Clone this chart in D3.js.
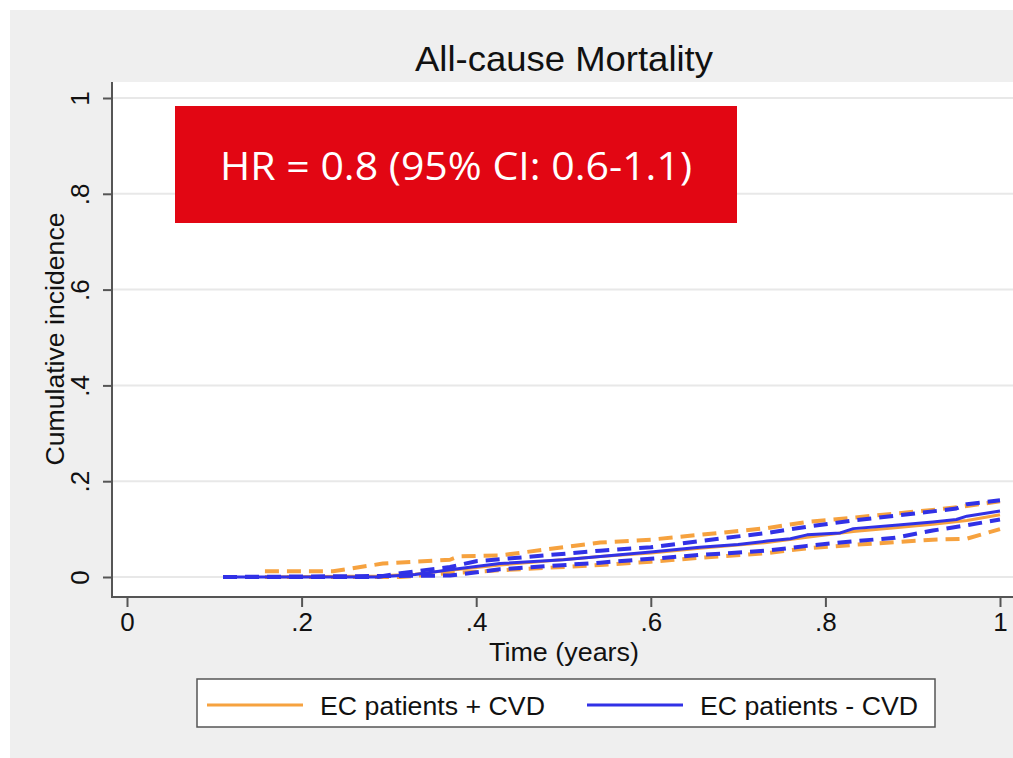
<!DOCTYPE html>
<html>
<head>
<meta charset="utf-8">
<script src="https://cdn.jsdelivr.net/npm/d3@7"></script>
<style>
  body { margin: 0; background: #fff; }
  svg { display: block; font-family: 'Liberation Sans', Arial, sans-serif; }
</style>
</head>
<body>
<div id="chart"></div>
<script>
// [time, cumulative incidence]
let orangeEst = [[0.158, 0], [0.286, 0.002], [0.33, 0.006], [0.37, 0.014], [0.427, 0.025], [0.542, 0.043], [0.6, 0.05], [0.656, 0.06], [0.733, 0.072], [0.779, 0.083], [0.832, 0.095], [0.88, 0.103], [0.923, 0.11], [0.962, 0.118], [1.0, 0.13]]
let orangeHi = [[0.158, 0.012], [0.236, 0.012], [0.293, 0.028], [0.37, 0.036], [0.38, 0.043], [0.427, 0.045], [0.542, 0.072], [0.6, 0.078], [0.656, 0.088], [0.733, 0.102], [0.779, 0.115], [0.832, 0.124], [0.923, 0.14], [0.962, 0.148], [1.0, 0.158]]
let orangeLo = [[0.158, 0], [0.313, 0], [0.37, 0.008], [0.427, 0.014], [0.542, 0.025], [0.6, 0.032], [0.656, 0.04], [0.733, 0.05], [0.779, 0.06], [0.832, 0.067], [0.923, 0.078], [0.962, 0.08], [1.0, 0.1]]

let blueEst = [[0.11, 0], [0.286, 0], [0.33, 0.005], [0.37, 0.015], [0.427, 0.028], [0.5, 0.036], [0.6, 0.052], [0.656, 0.062], [0.7, 0.068], [0.733, 0.075], [0.76, 0.08], [0.779, 0.088], [0.817, 0.092], [0.832, 0.101], [0.88, 0.108], [0.923, 0.115], [0.95, 0.12], [0.962, 0.127], [1.0, 0.138]]
let blueHi = [[0.11, 0], [0.286, 0], [0.313, 0.008], [0.37, 0.021], [0.4, 0.033], [0.427, 0.037], [0.542, 0.055], [0.6, 0.062], [0.656, 0.075], [0.733, 0.092], [0.779, 0.105], [0.832, 0.118], [0.923, 0.137], [0.95, 0.143], [0.962, 0.152], [1.0, 0.16]]
let blueLo = [[0.11, 0], [0.37, 0.003], [0.427, 0.016], [0.542, 0.03], [0.6, 0.038], [0.656, 0.046], [0.733, 0.055], [0.779, 0.065], [0.817, 0.072], [0.88, 0.082], [0.923, 0.097], [0.962, 0.108], [1.0, 0.12]]

let xTicks = [0, 0.2, 0.4, 0.6, 0.8, 1]
let yTicks = [0, 0.2, 0.4, 0.6, 0.8, 1]
let legendLabels = ['EC patients + CVD', 'EC patients - CVD']

let orange = '#f6a23f'
let blue = '#3131e6'
let fmt = d => (d === 0 || d === 1) ? String(d) : String(d).replace(/^0/, '')

let svg = d3.select('#chart').append('svg')
  .attr('width', 1013)
  .attr('height', 758)

// gray graph region + white plot region
svg.append('rect').attr('x', 10).attr('y', 10).attr('width', 1003).attr('height', 748).attr('fill', '#efefef')
svg.append('rect').attr('x', 112).attr('y', 82).attr('width', 901).attr('height', 515).attr('fill', '#fff')

let x = d3.scaleLinear().domain([0, 1]).range([127, 1000])
let y = d3.scaleLinear().domain([0, 1]).range([577, 98])

// gridlines
svg.append('g')
  .selectAll('line')
  .data(yTicks)
  .enter()
  .append('line')
  .attr('x1', 113).attr('x2', 1013)
  .attr('y1', d => y(d)).attr('y2', d => y(d))
  .attr('stroke', '#e8e8e8')
  .attr('stroke-width', 2)

// axes
let yAxis = svg.append('g')
  .attr('transform', 'translate(112,0)')
  .call(d3.axisLeft(y).tickValues(yTicks).tickFormat(fmt).tickSize(9).tickPadding(10))
yAxis.select('.domain').attr('d', 'M0,82V597').attr('stroke', '#555').attr('stroke-width', 2)
yAxis.selectAll('.tick line').attr('stroke', '#555').attr('stroke-width', 2)
yAxis.selectAll('.tick text')
  .attr('font-size', 26).attr('fill', '#111')
  .attr('text-anchor', 'middle')
  .attr('transform', 'translate(-32,0) rotate(-90)')
  .attr('x', 0).attr('dy', '0.35em')

let xAxis = svg.append('g')
  .attr('transform', 'translate(0,597)')
  .call(d3.axisBottom(x).tickValues(xTicks).tickFormat(fmt).tickSize(10).tickPadding(6))
xAxis.select('.domain').attr('d', 'M111,0H1013').attr('stroke', '#555').attr('stroke-width', 2)
xAxis.selectAll('.tick line').attr('stroke', '#555').attr('stroke-width', 2)
xAxis.selectAll('.tick text').attr('font-size', 26).attr('fill', '#111')

// titles
svg.append('text')
  .attr('x', 564).attr('y', 71)
  .attr('text-anchor', 'middle')
  .attr('font-size', 35)
  .attr('fill', '#111')
  .attr('textLength', 298)
  .attr('lengthAdjust', 'spacingAndGlyphs')
  .text('All-cause Mortality')

svg.append('text')
  .attr('x', 564).attr('y', 661)
  .attr('text-anchor', 'middle')
  .attr('font-size', 26)
  .attr('fill', '#111')
  .attr('textLength', 150)
  .attr('lengthAdjust', 'spacingAndGlyphs')
  .text('Time (years)')

svg.append('text')
  .attr('transform', 'translate(64,339) rotate(-90)')
  .attr('text-anchor', 'middle')
  .attr('font-size', 26)
  .attr('fill', '#111')
  .attr('textLength', 253)
  .attr('lengthAdjust', 'spacingAndGlyphs')
  .text('Cumulative incidence')

// curves
let line = d3.line().x(d => x(d[0])).y(d => y(d[1]))

let series = [
  { data: orangeHi, color: orange, dashed: true },
  { data: orangeLo, color: orange, dashed: true },
  { data: orangeEst, color: orange, dashed: false },
  { data: blueHi, color: blue, dashed: true },
  { data: blueLo, color: blue, dashed: true },
  { data: blueEst, color: blue, dashed: false }
]

svg.append('g')
  .selectAll('path')
  .data(series)
  .enter()
  .append('path')
  .attr('d', d => line(d.data))
  .attr('fill', 'none')
  .attr('stroke', d => d.color)
  .attr('stroke-width', d => d.dashed ? 4 : 3)
  .attr('stroke-dasharray', d => d.dashed ? '14,8' : null)
  .attr('stroke-linejoin', 'round')

// HR annotation
svg.append('rect')
  .attr('x', 175).attr('y', 106).attr('width', 562).attr('height', 117)
  .attr('fill', '#e20613')
svg.append('text')
  .attr('x', 456).attr('y', 180)
  .attr('text-anchor', 'middle')
  .attr('font-family', "'Open Sans', 'Noto Sans', sans-serif")
  .attr('font-size', 38)
  .attr('fill', '#fff')
  .attr('textLength', 472)
  .attr('lengthAdjust', 'spacingAndGlyphs')
  .text('HR = 0.8 (95% CI: 0.6-1.1)')

// legend
let legend = svg.append('g')
legend.append('rect')
  .attr('x', 197).attr('y', 679).attr('width', 738).attr('height', 48)
  .attr('fill', '#fff').attr('stroke', '#555').attr('stroke-width', 1.5)

legend.selectAll('.item')
  .data(legendLabels)
  .enter()
  .append('g')
  .attr('class', 'item')
  .attr('transform', (d, i) => `translate(${207 + i * 380}, 705)`)
  .each(function(d, i) {
    let g = d3.select(this)
    g.append('line')
      .attr('x1', 0).attr('x2', 96)
      .attr('stroke', i === 0 ? orange : blue)
      .attr('stroke-width', 3)
    g.append('text')
      .attr('x', 113).attr('y', 10)
      .attr('font-size', 26)
      .attr('fill', '#111')
      .attr('textLength', i === 0 ? 225 : 218)
      .attr('lengthAdjust', 'spacingAndGlyphs')
      .text(d)
  })
</script>
</body>
</html>
